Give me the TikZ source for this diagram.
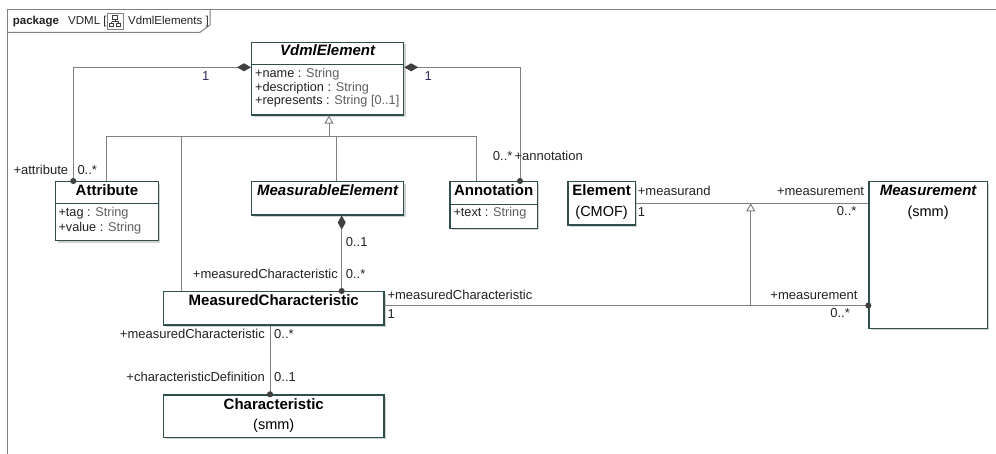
\documentclass[tikz,border=0pt]{standalone}
\usepackage{fontspec}
\setmainfont{Liberation Sans}
\usetikzlibrary{arrows.meta,shadows}
\definecolor{boxc}{HTML}{2F4F4F}
\definecolor{linec}{HTML}{808080}
\definecolor{markc}{HTML}{404040}
\definecolor{txtc}{HTML}{222222}
\definecolor{typec}{HTML}{5F5F5F}
\definecolor{multc}{HTML}{2C2C55}
\newcommand{\titlefont}{\fontsize{15}{17}\selectfont\bfseries}
\newcommand{\subfont}{\fontsize{14.5}{17}\selectfont}
\newcommand{\attrfont}{\fontsize{12.7}{14}\selectfont}
\newcommand{\lblfont}{\fontsize{13}{15}\selectfont}
\newcommand{\tabfont}{\fontsize{11.5}{13}\selectfont}
\newcommand{\typ}[1]{\textcolor{typec}{#1}}
\tikzset{
  % class box, placed by its top left corner
  classbox/.style={draw=boxc, fill=white, line width=1.2pt, anchor=north west,
    inner sep=0pt, drop shadow={shadow xshift=2pt, shadow yshift=-2pt,
      fill=black, opacity=.18}},
  title/.style={inner sep=0pt, font=\titlefont, text height=.72em, text depth=0pt},
  subtitle/.style={inner sep=0pt, font=\subfont, text height=.72em, text depth=0pt},
  attrtext/.style={anchor=west, inner sep=0pt, font=\attrfont, text=txtc,
    text height=.72em, text depth=0pt},
  lbl/.style={inner sep=0pt, font=\lblfont, text=txtc, text height=.72em, text depth=0pt},
  % connectors
  line/.style={draw=linec, line width=1pt},
  comp/.style={line, {Diamond[length=14pt,width=8pt,color=markc]}-{Circle[length=6pt,color=markc]},
    shorten >=-3pt},
  assoc/.style={line, -{Circle[length=6pt,color=markc]}, shorten >=-3pt},
  gen/.style={line, -{Triangle[length=8pt,width=9pt,fill=white]}},
}

\begin{document}
\begin{tikzpicture}[x=1pt,y=-1pt]
\useasboundingbox (0,0) rectangle (996,453);
% frame and tab
\draw[linec, line width=1pt] (7,470) -- (7,9.3) -- (1010,9.3);
\draw[linec, line width=1pt] (7,32.3) -- (200,32.3) -- (210,25) -- (210,9.3);
\node[lbl, font=\tabfont\bfseries, anchor=west] (tabP) at (12.7,20.5) {package};
\node[lbl, font=\tabfont, anchor=west] (tabV) at (68,20.5) {VDML [};
\draw[linec, fill=white] (107.3,13.3) rectangle (123.3,29.3);
\draw[markc, line width=.7pt] (112.8,15.8) rectangle (117.8,19.3)
  (115.3,19.3) -- (115.3,21.5) (111.8,21.5) -- (118.8,21.5) (111.8,21.5) -- (111.8,23.5)
  (118.8,21.5) -- (118.8,23.5) (109.8,23.5) rectangle (113.8,26.8) (116.8,23.5) rectangle (120.8,26.8);
\node[lbl, font=\tabfont, anchor=west] (tabN) at (128,20.5) {VdmlElements ]};

% classes
\node[classbox, minimum width=152pt, minimum height=72.6pt] (vdml) at (251,41.7) {};
\draw[boxc, line width=1pt] ([yshift=-22.3pt]vdml.north west) -- ([yshift=-22.3pt]vdml.north east);
\node[title] (vdmlT) at ([yshift=-10.6pt]vdml.north) {\itshape VdmlElement};
\node[attrtext] (vdmlA) at ([xshift=4pt,yshift=-32.3pt]vdml.north west) {+name : \typ{String}};
\node[attrtext] (vdmlB) at ([xshift=4pt,yshift=-46pt]vdml.north west) {+description : \typ{String}};
\node[attrtext] (vdmlC) at ([xshift=4pt,yshift=-59.3pt]vdml.north west) {+represents : \typ{String [0..1]}};

\node[classbox, minimum width=102.7pt, minimum height=59pt] (attr) at (55,181) {};
\draw[boxc, line width=1pt] ([yshift=-22.5pt]attr.north west) -- ([yshift=-22.5pt]attr.north east);
\node[title] (attrT) at ([yshift=-11.3pt]attr.north) {Attribute};
\node[attrtext] (attrA) at ([xshift=3.3pt,yshift=-32.3pt]attr.north west) {+tag : \typ{String}};
\node[attrtext] (attrB) at ([xshift=3.3pt,yshift=-46.7pt]attr.north west) {+value : \typ{String}};

\node[classbox, minimum width=152pt, minimum height=33.3pt] (meas) at (251,181) {};
\node[title] (measT) at ([yshift=-11.3pt]meas.north) {\itshape MeasurableElement};

\node[classbox, minimum width=87.4pt, minimum height=46.7pt] (annot) at (449.3,181) {};
\draw[boxc, line width=1pt] ([yshift=-23pt]annot.north west) -- ([yshift=-23pt]annot.north east);
\node[title] (annotT) at ([yshift=-11.3pt]annot.north) {Annotation};
\node[attrtext] (annotA) at ([xshift=4pt,yshift=-32.3pt]annot.north west) {+text : \typ{String}};

\node[classbox, minimum width=67.4pt, minimum height=43.3pt] (elem) at (567.3,181) {};
\node[title] (elemT) at ([yshift=-11.3pt]elem.north) {Element};
\node[subtitle] (elemS) at ([yshift=-32.3pt]elem.north) {(CMOF)};

\node[classbox, minimum width=118.4pt, minimum height=146.7pt] (msmt) at (868.3,181) {};
\node[title] (msmtT) at ([yshift=-11.3pt]msmt.north) {\itshape Measurement};
\node[subtitle] (msmtS) at ([yshift=-31.7pt]msmt.north) {(smm)};

\node[classbox, minimum width=220.3pt, minimum height=33.3pt] (mchar) at (163,291) {};
\node[title] (mcharT) at ([yshift=-11.3pt]mchar.north) {MeasuredCharacteristic};

\node[classbox, minimum width=220.3pt, minimum height=42.4pt] (chr) at (163,394.3) {};
\node[title] (chrT) at ([yshift=-11.4pt]chr.north) {Characteristic};
\node[subtitle] (chrS) at ([yshift=-31.4pt]chr.north) {(smm)};

% generalizations to VdmlElement
\coordinate (bus) at (329,136.7);
\draw[gen] (bus) -- (bus |- vdml.south);
\draw[line] ([xshift=51.7pt]attr.north west) |- (bus) -| ([xshift=26.7pt]annot.north west);
\draw[line] ([xshift=18.7pt]mchar.north west) |- (bus);
\draw[line] ([xshift=85pt]meas.north west) |- (bus);

% compositions and associations
\draw[comp] ([yshift=-25.6pt]vdml.north west) -| ([xshift=18.3pt]attr.north west);
\draw[comp] ([yshift=-25.6pt]vdml.north east) -| ([xshift=70.7pt]annot.north west);
\draw[comp] ([xshift=90.7pt]meas.south west) -- ([xshift=178.7pt]mchar.north west);
\draw[assoc] ([xshift=107pt]mchar.south west) -- ([xshift=107pt]chr.north west);
\draw[assoc] ([yshift=-14.5pt]mchar.north east) coordinate (mcR) -- (mcR -| msmt.west);
\draw[line] (elem.east) -- (elem.east -| msmt.west);
\coordinate (sub) at (750.7,305.5);
\draw[gen] (sub) -- (sub |- elem.east);

% end labels
\node[lbl, text=multc] (l1) at (205.7,77.3) {1};
\node[lbl, anchor=east] (l2) at (68.3,170.7) {+attribute};
\node[lbl, anchor=west] (l3) at (77.3,170.7) {0..*};
\node[lbl, text=multc] (l4) at (428.3,77.3) {1};
\node[lbl, anchor=east] (l5) at (512.7,157.3) {0..*};
\node[lbl, anchor=west] (l6) at (514.3,157.3) {+annotation};
\node[lbl, anchor=west] (l7) at (345.7,243.3) {0..1};
\node[lbl, anchor=east] (l8) at (338,274.7) {+measuredCharacteristic};
\node[lbl, anchor=west] (l9) at (345.6,274.7) {0..*};
\node[lbl, anchor=east] (l10) at (265,334.7) {+measuredCharacteristic};
\node[lbl, anchor=west] (l11) at (274,334.7) {0..*};
\node[lbl, anchor=east] (l12) at (265,378) {+characteristicDefinition};
\node[lbl, anchor=west] (l13) at (274,378) {0..1};
\node[lbl, anchor=west] (l14) at (387.3,295.7) {+measuredCharacteristic};
\node[lbl, anchor=west] (l15) at (387.3,315) {1};
\node[lbl, anchor=east] (l16) at (857.7,295.7) {+measurement};
\node[lbl, anchor=east] (l17) at (850,314.3) {0..*};
\node[lbl, anchor=west] (l18) at (637.7,192.3) {+measurand};
\node[lbl, anchor=west] (l19) at (637.7,213.3) {1};
\node[lbl, anchor=east] (l20) at (864.3,192.3) {+measurement};
\node[lbl, anchor=east] (l21) at (856.7,212.3) {0..*};
\end{tikzpicture}
\end{document}
